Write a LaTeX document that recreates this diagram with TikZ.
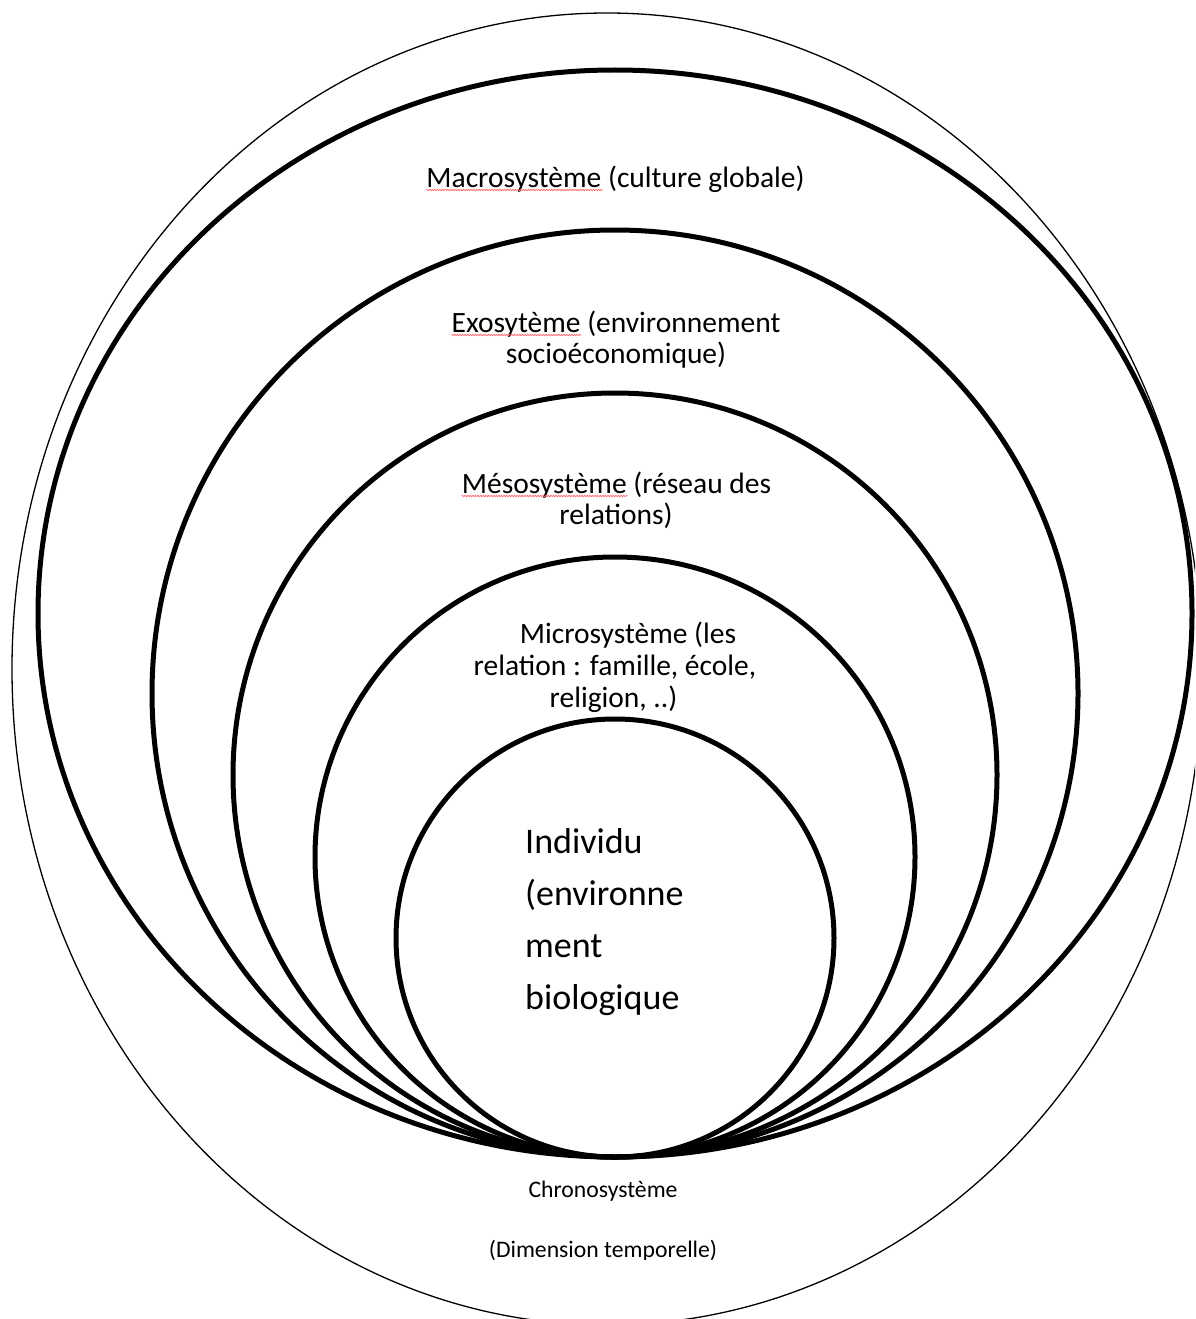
\documentclass[tikz,border=0pt]{standalone}
\usepackage{fontspec}
\setmainfont{Carlito}
\usetikzlibrary{decorations.pathmorphing}
\begin{document}
\begin{tikzpicture}[x=1pt,y=-1pt,
  ring/.style={line width=5pt},
  outerring/.style={line width=1.3pt},
  lbl/.style={inner sep=0pt,anchor=base,font=\fontsize{29.5}{31}\selectfont},
  indiv/.style={inner sep=0pt,anchor=base west,font=\fontsize{36}{52}\selectfont},
  chrono/.style={inner sep=0pt,anchor=base,font=\fontsize{23.7}{28}\selectfont},
  spell/.style={draw=red!60,line width=0.7pt,decorate,decoration={snake,amplitude=0.7pt,segment length=2.6pt}}]
\useasboundingbox (0,0) rectangle (1195,1319);
\fill[white] (0,0) rectangle (1195,1319);
\begin{scope}
  \clip (0,0) rectangle (1195,1319);
  \draw[outerring] (607,669) ellipse [x radius=595pt, y radius=656pt];
  \draw[ring] (615,613.5) ellipse [x radius=577pt, y radius=543.5pt];
  \draw[ring] (615,693.5) ellipse [x radius=463pt, y radius=463.5pt];
  \draw[ring] (615,775) ellipse [x radius=382pt, y radius=382pt];
  \draw[ring] (615,857) ellipse [x radius=300pt, y radius=300pt];
  \draw[ring] (615,938) ellipse [x radius=219pt, y radius=219pt];
\end{scope}

\node[lbl] (macro) at (615.5,187) {Macrosystème (culture globale)};
\draw[spell] ([yshift=-3pt]macro.base west) -- ++(177,0);

\node[lbl] (exoA) at (616,332) {Exosytème (environnement};
\node[lbl] (exoB) at (616,363) {socioéconomique)};
\draw[spell] ([yshift=-3pt]exoA.base west) -- ++(130,0);

\node[lbl] (mesoA) at (616.5,493) {Mésosystème (réseau des};
\node[lbl] (mesoB) at (616,524) {relations)};
\draw[spell] ([yshift=-3pt]mesoA.base west) -- ++(166,0);

\node[lbl] (microA) at (628,643) {Microsystème (les};
\node[lbl] (microB) at (615,675) {relation : famille, école,};
\node[lbl] (microC) at (613.5,707) {religion, ..)};

\node[indiv] (indA) at (525,853) {Individu};
\node[indiv] (indB) at (525,905) {(environne};
\node[indiv] (indC) at (525,957) {ment};
\node[indiv] (indD) at (525,1009) {biologique};

\node[chrono] (chronoA) at (603,1197) {Chronosystème};
\begin{scope}
  \clip (0,0) rectangle (1195,1259);
  \node[chrono] (chronoB) at (603,1257) {(Dimension temporelle)};
\end{scope}
\end{tikzpicture}
\end{document}
